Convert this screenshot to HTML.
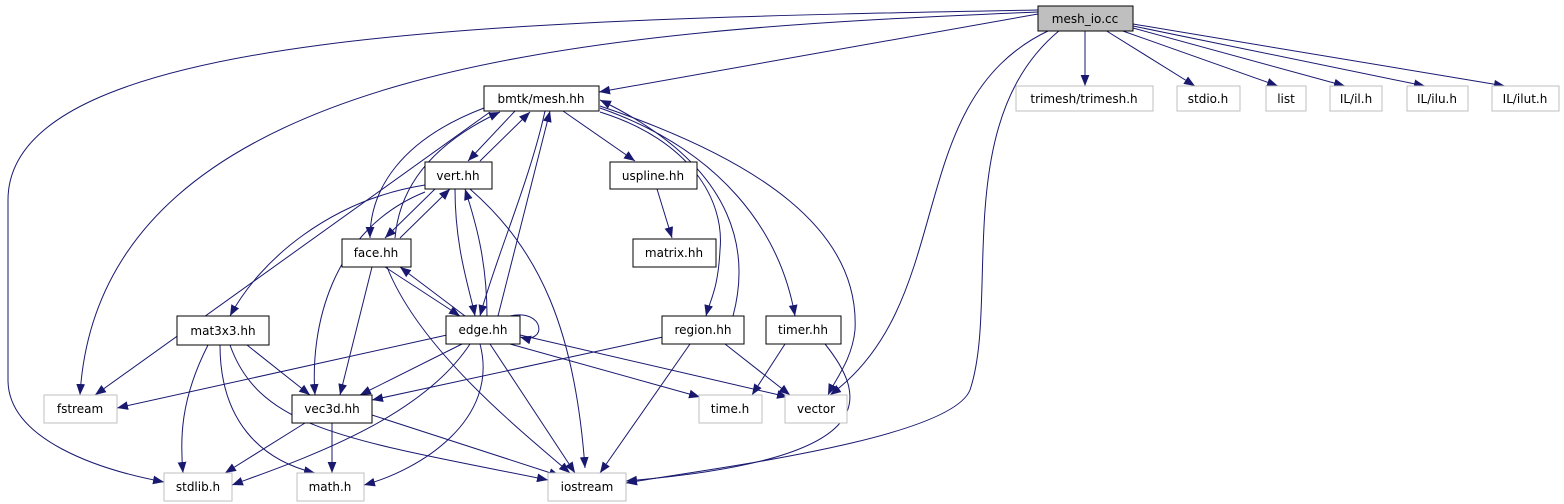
<!DOCTYPE html>
<html><head><meta charset="utf-8"><style>
html,body{margin:0;padding:0;background:#fff}
svg{display:block}
text{font-family:"DejaVu Sans","Liberation Sans",sans-serif;font-size:12px;fill:#000}
</style></head><body>
<svg width="1564" height="504" viewBox="0 0 1564 504" xmlns="http://www.w3.org/2000/svg">
<defs><marker id="a" viewBox="0 0 10 10" refX="10" refY="5" markerWidth="11" markerHeight="11" markerUnits="userSpaceOnUse" orient="auto"><path d="M0,1 L10,5 L0,9 z" fill="#191970"/></marker></defs>
<g fill="none" stroke="#191970" stroke-width="1" marker-end="url(#a)">
<path d="M1038,14 L599,92"/>
<path d="M1038,12 C600,30 100,60 80,395"/>
<path d="M1038,10 C500,20 8,30 8,200 L8,380 C8,440 100,470 164,482"/>
<path d="M1050,30 C900,100 960,300 830,395"/>
<path d="M1060,30 C950,120 1000,300 970,390 C950,440 700,470 626,483"/>
<path d="M1085,30 L1085,86"/>
<path d="M1105,30 L1195,86"/>
<path d="M1120,30 L1278,86"/>
<path d="M1133,28 L1345,86"/>
<path d="M1133,26 L1425,86"/>
<path d="M1133,24 L1505,86"/>
<path d="M515,111 L468,161"/>
<path d="M484,108 C400,140 370,190 370,238"/>
<path d="M545,111 C530,180 495,260 480,316"/>
<path d="M563,111 L635,161"/>
<path d="M600,112 C690,140 725,200 720,250 C718,290 710,300 706,316"/>
<path d="M600,108 C720,150 780,230 795,316"/>
<path d="M600,106 C760,160 860,230 855,330 C852,360 835,380 828,395"/>
<path d="M490,112 L95,395"/>
<path d="M395,238 C400,180 440,140 500,112"/>
<path d="M480,161 L530,112"/>
<path d="M435,189 L385,238"/>
<path d="M400,238 L450,189"/>
<path d="M455,189 C455,250 470,290 475,316"/>
<path d="M487,316 C487,260 475,220 465,189"/>
<path d="M470,189 C540,250 575,330 585,468"/>
<path d="M425,185 C330,200 260,260 230,316"/>
<path d="M425,192 C330,230 310,330 315,395"/>
<path d="M385,267 L460,316"/>
<path d="M465,316 L400,267"/>
<path d="M372,267 L340,395"/>
<path d="M387,267 C420,350 520,430 570,473"/>
<path d="M498,316 L550,111"/>
<path d="M510,316 C545,308 548,345 520,337"/>
<path d="M447,335 L117,408"/>
<path d="M462,344 L360,395"/>
<path d="M470,344 C420,420 300,460 232,485"/>
<path d="M480,344 C500,420 420,470 364,485"/>
<path d="M490,344 L575,473"/>
<path d="M510,344 L700,397"/>
<path d="M520,335 L788,397"/>
<path d="M733,316 C748,260 745,170 600,100"/>
<path d="M663,337 L372,400"/>
<path d="M690,344 L600,473"/>
<path d="M725,344 L790,395"/>
<path d="M785,344 L752,395"/>
<path d="M825,344 C870,400 880,460 626,481"/>
<path d="M208,345 C180,400 180,440 183,473"/>
<path d="M220,345 C220,420 260,460 315,473"/>
<path d="M247,345 L310,395"/>
<path d="M230,345 C260,430 350,440 548,480"/>
<path d="M305,423 L225,473"/>
<path d="M332,423 L332,473"/>
<path d="M372,415 L560,476"/>
<path d="M657,189 L672,238"/>
</g>
<g stroke-width="1">
<rect x="1038" y="6" width="95" height="25" fill="#bfbfbf" stroke="#000"/>
<g fill="#fff" stroke="#000">
<rect x="484" y="86" width="115" height="25"/>
<rect x="425" y="162" width="67" height="27"/>
<rect x="610" y="162" width="87" height="27"/>
<rect x="342" y="239" width="69" height="28"/>
<rect x="633" y="239" width="83" height="28"/>
<rect x="446" y="316" width="74" height="28"/>
<rect x="662" y="316" width="82" height="28"/>
<rect x="766" y="316" width="75" height="28"/>
<rect x="177" y="316" width="92" height="29"/>
<rect x="292" y="395" width="80" height="28"/>
</g>
<g fill="#fff" stroke="#bfbfbf">
<rect x="1016" y="86" width="137" height="25"/>
<rect x="1177" y="86" width="63" height="25"/>
<rect x="1266" y="86" width="40" height="25"/>
<rect x="1330" y="86" width="52" height="25"/>
<rect x="1407" y="86" width="61" height="25"/>
<rect x="1492" y="86" width="67" height="25"/>
<rect x="44" y="395" width="73" height="28"/>
<rect x="699" y="395" width="63" height="28"/>
<rect x="785" y="395" width="62" height="28"/>
<rect x="164" y="473" width="68" height="28"/>
<rect x="297" y="473" width="67" height="28"/>
<rect x="548" y="473" width="78" height="28"/>
</g>
</g>
<g text-anchor="middle">
<text x="1085" y="23">mesh_io.cc</text>
<text x="541" y="103">bmtk/mesh.hh</text>
<text x="458" y="180">vert.hh</text>
<text x="653" y="180">uspline.hh</text>
<text x="376" y="257">face.hh</text>
<text x="674" y="257">matrix.hh</text>
<text x="483" y="334">edge.hh</text>
<text x="703" y="334">region.hh</text>
<text x="803" y="334">timer.hh</text>
<text x="223" y="335">mat3x3.hh</text>
<text x="332" y="413">vec3d.hh</text>
<text x="1084" y="103">trimesh/trimesh.h</text>
<text x="1208" y="103">stdio.h</text>
<text x="1286" y="103">list</text>
<text x="1356" y="103">IL/il.h</text>
<text x="1437" y="103">IL/ilu.h</text>
<text x="1525" y="103">IL/ilut.h</text>
<text x="80" y="413">fstream</text>
<text x="730" y="413">time.h</text>
<text x="816" y="413">vector</text>
<text x="198" y="491">stdlib.h</text>
<text x="330" y="491">math.h</text>
<text x="587" y="491">iostream</text>
</g>
</svg>
</body></html>
